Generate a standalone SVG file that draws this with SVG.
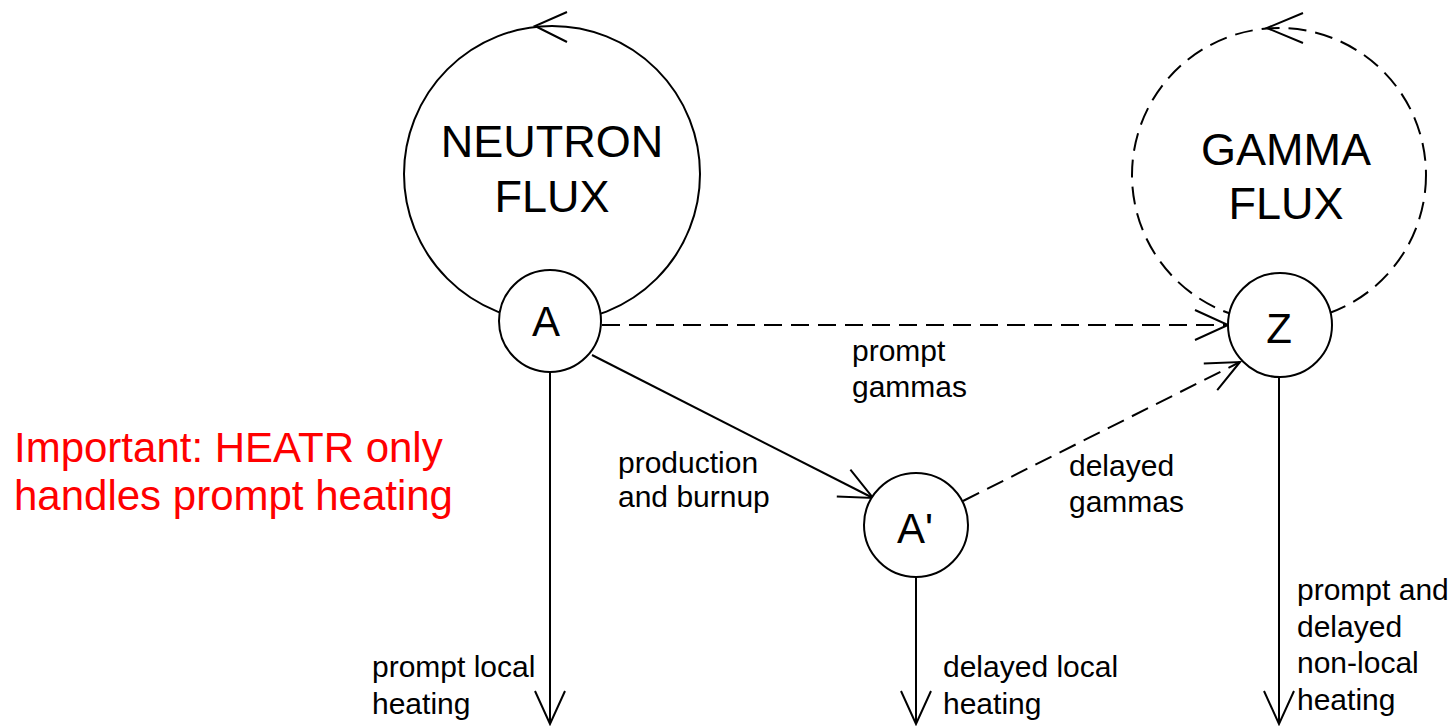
<svg xmlns="http://www.w3.org/2000/svg" width="1451" height="726" viewBox="0 0 1451 726">
<style>
.ln{fill:none;stroke:#000;stroke-width:2}
.dash{stroke-dasharray:18 9}
.node{fill:#fff;stroke:#000;stroke-width:2}
.big{font-family:"Liberation Sans",Arial,sans-serif;font-size:45px;fill:#000;text-anchor:middle}
.lbl{font-family:"Liberation Sans",Arial,sans-serif;font-size:30px;fill:#000}
.red{font-family:"Liberation Sans",Arial,sans-serif;font-size:42px;fill:#ff0000}
</style>
<defs>
<marker id="arr" markerUnits="userSpaceOnUse" markerWidth="80" markerHeight="80" refX="0" refY="0" orient="auto" overflow="visible" viewBox="-40 -40 80 80">
<path d="M-33,-15 L0,0 L-33,15" fill="none" stroke="#000" stroke-width="2"/>
</marker>
</defs>
<rect width="1451" height="726" fill="#fff"/>
<g id="neutron-flux">
<circle class="ln" cx="552" cy="174" r="148"/>
<polyline class="ln" points="567,12 535,26 567,42"/>
<text class="big" x="552" y="157">NEUTRON</text>
<text class="big" x="552" y="212">FLUX</text>
</g>
<g id="gamma-flux">
<circle class="ln dash" cx="1279" cy="175" r="147"/>
<polyline class="ln" points="1303,13 1267,28 1303,43"/>
<text class="big" x="1286" y="165">GAMMA</text>
<text class="big" x="1286" y="219">FLUX</text>
</g>
<g id="connectors">
<line class="ln dash" x1="602" y1="325" x2="1228" y2="325" marker-end="url(#arr)"/>
<line class="ln" x1="592" y1="355" x2="873" y2="498" marker-end="url(#arr)"/>
<line class="ln dash" x1="963" y1="501" x2="1240" y2="362" marker-end="url(#arr)"/>
<line class="ln" x1="550" y1="372" x2="550" y2="724" marker-end="url(#arr)"/>
<line class="ln" x1="916" y1="577" x2="916" y2="724" marker-end="url(#arr)"/>
<line class="ln" x1="1279" y1="377" x2="1279" y2="724" marker-end="url(#arr)"/>
<text class="lbl" x="852" y="361">prompt</text>
<text class="lbl" x="852" y="397">gammas</text>
<text class="lbl" x="618" y="473">production</text>
<text class="lbl" x="618" y="507">and burnup</text>
<text class="lbl" x="1069" y="476">delayed</text>
<text class="lbl" x="1069" y="512">gammas</text>
<text class="lbl" x="372" y="677">prompt local</text>
<text class="lbl" x="372" y="714">heating</text>
<text class="lbl" x="943" y="677">delayed local</text>
<text class="lbl" x="943" y="714">heating</text>
<text class="lbl" x="1297" y="600">prompt and</text>
<text class="lbl" x="1297" y="637">delayed</text>
<text class="lbl" x="1297" y="673">non-local</text>
<text class="lbl" x="1297" y="710">heating</text>
</g>
<g id="node-A">
<circle class="node" cx="550" cy="321" r="51"/>
<text class="big" x="546" y="336" style="font-size:42px">A</text>
</g>
<g id="node-Aprime">
<circle class="node" cx="916" cy="525" r="52"/>
<text class="big" x="915" y="543" style="font-size:42px">A'</text>
</g>
<g id="node-Z">
<circle class="node" cx="1280" cy="325" r="52"/>
<text class="big" x="1279" y="343" style="font-size:42px">Z</text>
</g>
<g id="note">
<text class="red" x="14" y="462">Important: HEATR only</text>
<text class="red" x="14" y="510">handles prompt heating</text>
</g>
</svg>
